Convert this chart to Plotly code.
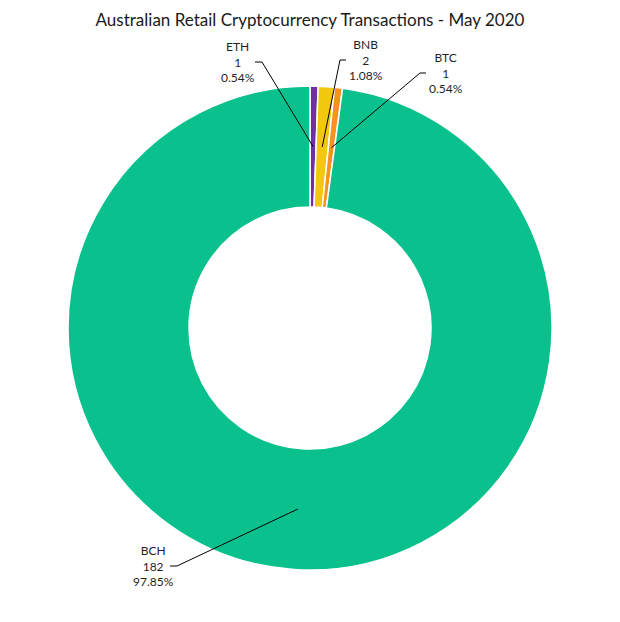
import math
import plotly.graph_objects as go

# Data
coins = ["ETH", "BNB", "BTC", "BCH"]
transactions = [1, 2, 1, 182]
colors = ["#7030A0", "#F2C80F", "#F7931A", "#0AC18E"]

# Layout (pixels, in window coordinates; the page body adds an 8px offset)
OFF = 8
W, H = 620 - OFF, 622 - OFF
cx, cy, R = 310, 328, 242
hole = 0.5
# text centre (x, y of the middle line) per label and which side the leader leaves
label_pos = {
    "ETH": (238, 62, "right"),
    "BNB": (366, 60, "left"),
    "BTC": (446, 73, "left"),
    "BCH": (153, 566, "right"),
}


def px(x):
    return (x - OFF) / W


def py(y):
    return 1 - (y - OFF) / H


fig = go.Figure(go.Pie(
    labels=coins,
    values=transactions,
    hole=hole,
    sort=False,
    direction="clockwise",
    rotation=0,
    marker=dict(colors=colors, line=dict(color="white", width=1.5)),
    textinfo="none",
    hoverinfo="label+value+percent",
    showlegend=False,
    domain=dict(x=[px(cx - R), px(cx + R)], y=[py(cy + R), py(cy - R)]),
))

total = sum(transactions)
r_mid = R * (1 + hole) / 2
cum = 0
shapes, annotations = [], []
for coin, v in zip(coins, transactions):
    ang = math.radians((cum + v / 2) / total * 360)
    cum += v
    ex, ey = cx + r_mid * math.sin(ang), cy - r_mid * math.cos(ang)
    tx, ty, side = label_pos[coin]
    if side == "right":
        x0, x1 = tx + 17, tx + 24
    else:
        x0, x1 = tx - 20, tx - 26
    shapes.append(dict(
        type="path", xref="paper", yref="paper",
        path=f"M {px(x0)} {py(ty)} L {px(x1)} {py(ty)} L {px(ex)} {py(ey)}",
        line=dict(color="black", width=1),
    ))
    annotations.append(dict(
        x=px(tx), y=py(ty), xref="paper", yref="paper",
        text=f"{coin}<br>{v}<br>{v / total * 100:.2f}%",
        showarrow=False, xanchor="center", yanchor="middle", align="center",
        font=dict(size=12, color="#1f1f1f"),
    ))

fig.update_layout(
    width=W, height=H,
    margin=dict(l=0, r=0, t=0, b=0),
    paper_bgcolor="white",
    font=dict(family="Lato, Open Sans, sans-serif"),
    title=dict(
        text="Australian Retail Cryptocurrency Transactions - May 2020",
        x=px(310), xanchor="center", y=py(20), yanchor="middle",
        font=dict(size=17, color="#1a1a1a"),
    ),
    shapes=shapes,
    annotations=annotations,
)

fig.write_html("out.html")
